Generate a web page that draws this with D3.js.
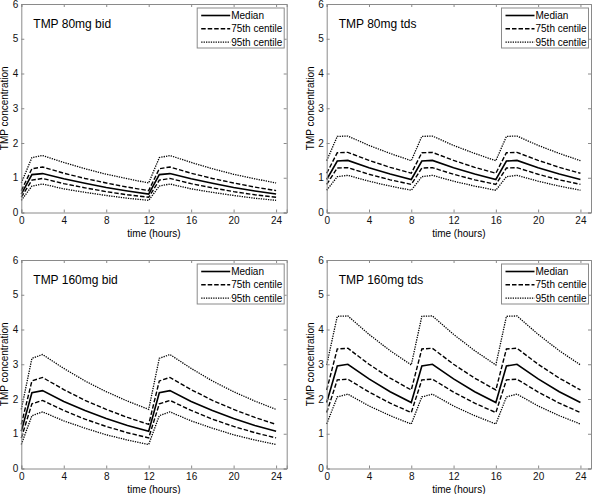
<!DOCTYPE html>
<html><head><meta charset="utf-8">
<script src="https://cdn.jsdelivr.net/npm/d3@7"></script>
<style>
html,body{margin:0;padding:0;background:#fff;}
svg{display:block;font-family:"Liberation Sans",Arial,sans-serif;}
</style></head>
<body><svg id="c" width="592" height="494"></svg>
<script>
// ---- data ----
const timesBid = [0,1,2,4,6,8,10,12,13,14,16,18,20,22,24];
const timesTds = [0,1,2,4,6,8,9,10,12,14,16,17,18,20,22,24];

const bid80Median = [0.53,1.09,1.12,0.97,0.84,0.72,0.62,0.53,1.09,1.12,0.97,0.84,0.72,0.62,0.53];
const bid80P75Hi  = [0.63,1.26,1.31,1.13,0.98,0.85,0.73,0.63,1.26,1.31,1.13,0.98,0.85,0.73,0.63];
const bid80P75Lo  = [0.44,0.93,0.98,0.83,0.71,0.60,0.51,0.44,0.93,0.98,0.83,0.71,0.60,0.51,0.44];
const bid80P95Hi  = [0.85,1.58,1.64,1.44,1.26,1.10,0.97,0.85,1.58,1.64,1.44,1.26,1.10,0.97,0.85];
const bid80P95Lo  = [0.35,0.76,0.82,0.68,0.58,0.49,0.41,0.35,0.76,0.82,0.68,0.58,0.49,0.41,0.35];

const tds80Median = [0.95,1.48,1.50,1.29,1.11,0.95,1.48,1.50,1.29,1.11,0.95,1.48,1.50,1.29,1.11,0.95];
const tds80P75Hi  = [1.13,1.72,1.73,1.50,1.30,1.13,1.72,1.73,1.50,1.30,1.13,1.72,1.73,1.50,1.30,1.13];
const tds80P75Lo  = [0.81,1.28,1.29,1.10,0.94,0.81,1.28,1.29,1.10,0.94,0.81,1.28,1.29,1.10,0.94,0.81];
const tds80P95Hi  = [1.49,2.19,2.20,1.93,1.70,1.49,2.19,2.20,1.93,1.70,1.49,2.19,2.20,1.93,1.70,1.49];
const tds80P95Lo  = [0.64,1.03,1.07,0.90,0.76,0.64,1.03,1.07,0.90,0.76,0.64,1.03,1.07,0.90,0.76,0.64];

const bid160Median = [1.07,2.18,2.24,1.93,1.67,1.44,1.24,1.07,2.18,2.24,1.93,1.67,1.44,1.24,1.07];
const bid160P75Hi  = [1.27,2.52,2.62,2.27,1.96,1.70,1.47,1.27,2.52,2.62,2.27,1.96,1.70,1.47,1.27];
const bid160P75Lo  = [0.88,1.86,1.96,1.67,1.42,1.21,1.03,0.88,1.86,1.96,1.67,1.42,1.21,1.03,0.88];
const bid160P95Hi  = [1.70,3.17,3.28,2.88,2.52,2.21,1.94,1.70,3.17,3.28,2.88,2.52,2.21,1.94,1.70];
const bid160P95Lo  = [0.69,1.52,1.63,1.37,1.16,0.97,0.82,0.69,1.52,1.63,1.37,1.16,0.97,0.82,0.69];

const tds160Median = [1.90,2.95,3.00,2.58,2.21,1.90,2.95,3.00,2.58,2.21,1.90,2.95,3.00,2.58,2.21,1.90];
const tds160P75Hi  = [2.26,3.44,3.46,3.00,2.60,2.26,3.44,3.46,3.00,2.60,2.26,3.44,3.46,3.00,2.60,2.26];
const tds160P75Lo  = [1.61,2.55,2.57,2.20,1.88,1.61,2.55,2.57,2.20,1.88,1.61,2.55,2.57,2.20,1.88,1.61];
const tds160P95Hi  = [2.98,4.38,4.39,3.86,3.39,2.98,4.38,4.39,3.86,3.39,2.98,4.38,4.39,3.86,3.39,2.98];
const tds160P95Lo  = [1.28,2.06,2.14,1.80,1.52,1.28,2.06,2.14,1.80,1.52,1.28,2.06,2.14,1.80,1.52,1.28];

const xTicks = [0,4,8,12,16,20,24];
const yTicks = [0,1,2,3,4,5,6];
const legendLabels = ["Median","75th centile","95th centile"];
const titles = ["TMP 80mg bid","TMP 80mg tds","TMP 160mg bid","TMP 160mg tds"];

// ---- layout ----
const panels = [
  {title:titles[0], x0:21.3, x1:286.7, y0:4, y1:212.5, t:timesBid,
   s:[bid80Median,bid80P75Hi,bid80P75Lo,bid80P95Hi,bid80P95Lo]},
  {title:titles[1], x0:326.7, x1:591, y0:4, y1:212.5, t:timesTds,
   s:[tds80Median,tds80P75Hi,tds80P75Lo,tds80P95Hi,tds80P95Lo]},
  {title:titles[2], x0:21.3, x1:286.7, y0:260, y1:468.5, t:timesBid,
   s:[bid160Median,bid160P75Hi,bid160P75Lo,bid160P95Hi,bid160P95Lo]},
  {title:titles[3], x0:326.7, x1:591, y0:260, y1:468.5, t:timesTds,
   s:[tds160Median,tds160P75Hi,tds160P75Lo,tds160P95Hi,tds160P95Lo]}
];
const styles = [
  {dash:null, w:1.6},
  {dash:"4.5,2", w:1.4},
  {dash:"4.5,2", w:1.4},
  {dash:"1.3,1.1", w:1.3},
  {dash:"1.3,1.1", w:1.3}
];
const legendStyle = [styles[0], styles[1], styles[3]];
const axisCol = "#8a8a8a";
const svg = d3.select("#c");

panels.forEach(p => {
  const x = d3.scaleLinear().domain([0,25]).range([p.x0,p.x1]);
  const y = d3.scaleLinear().domain([0,6]).range([p.y1,p.y0]);
  const g = svg.append("g");

  // lines
  const line = d3.line().x((d,i)=>x(p.t[i])).y(d=>y(d));
  p.s.forEach((arr,k) => {
    g.append("path").datum(arr).attr("d",line)
      .attr("fill","none").attr("stroke","#000")
      .attr("stroke-width",styles[k].w)
      .attr("stroke-dasharray",styles[k].dash)
      .attr("stroke-linejoin","miter");
  });

  // axes (inward ticks, box)
  const tl = 3;
  const fmt = d3.format("d");
  const axB = d3.axisBottom(x).tickValues(xTicks).tickFormat(fmt).tickSize(-tl).tickPadding(4.5);
  const axL = d3.axisLeft(y).tickValues(yTicks).tickFormat(fmt).tickSize(-tl).tickPadding(3);
  const axT = d3.axisTop(x).tickValues(xTicks).tickSize(-tl).tickFormat("");
  const axR = d3.axisRight(y).tickValues(yTicks).tickSize(-tl).tickFormat("");
  const styleAx = sel => {
    sel.selectAll("path,line").attr("stroke",axisCol).attr("stroke-width",1);
    sel.selectAll("text").attr("fill","#111").attr("font-size","10px")
      .attr("font-family","Liberation Sans, Arial, sans-serif");
  };
  g.append("g").attr("transform",`translate(0,${p.y1})`).call(axB).call(styleAx);
  g.append("g").attr("transform",`translate(${p.x0},0)`).call(axL).call(styleAx);
  g.append("g").attr("transform",`translate(0,${p.y0})`).call(axT).call(styleAx);
  g.append("g").attr("transform",`translate(${p.x1},0)`).call(axR).call(styleAx);
  g.selectAll(".domain").attr("stroke",axisCol);

  // title
  g.append("text").attr("x",p.x0+12).attr("y",p.y0+24)
    .attr("font-size","12px").attr("fill","#000").text(p.title);

  // axis labels
  g.append("text").attr("x",(p.x0+p.x1)/2).attr("y",p.y1+24)
    .attr("text-anchor","middle").attr("font-size","10px").text("time (hours)");
  g.append("text")
    .attr("transform",`translate(${p.x0-16.5},${(p.y0+p.y1)/2}) rotate(-90)`)
    .attr("text-anchor","middle").attr("dy","0.35em").attr("font-size","10px")
    .text("TMP concentration");

  // legend
  const lx0 = p.x1-89.5, lx1 = p.x1-2.5, ly0 = p.y0+4, ly1 = p.y0+44;
  g.append("rect").attr("x",lx0).attr("y",ly0).attr("width",lx1-lx0).attr("height",ly1-ly0)
    .attr("fill","#fff").attr("stroke",axisCol).attr("stroke-width",1);
  legendLabels.forEach((lab,i) => {
    const yy = ly0 + 7.5 + i*13.3;
    g.append("line").attr("x1",lx0+4).attr("x2",lx0+33).attr("y1",yy).attr("y2",yy)
      .attr("stroke","#000").attr("stroke-width",legendStyle[i].w)
      .attr("stroke-dasharray",legendStyle[i].dash);
    g.append("text").attr("x",lx0+34).attr("y",yy).attr("dy","0.35em")
      .attr("font-size","10px").attr("fill","#000").text(lab);
  });
});
</script></body></html>
